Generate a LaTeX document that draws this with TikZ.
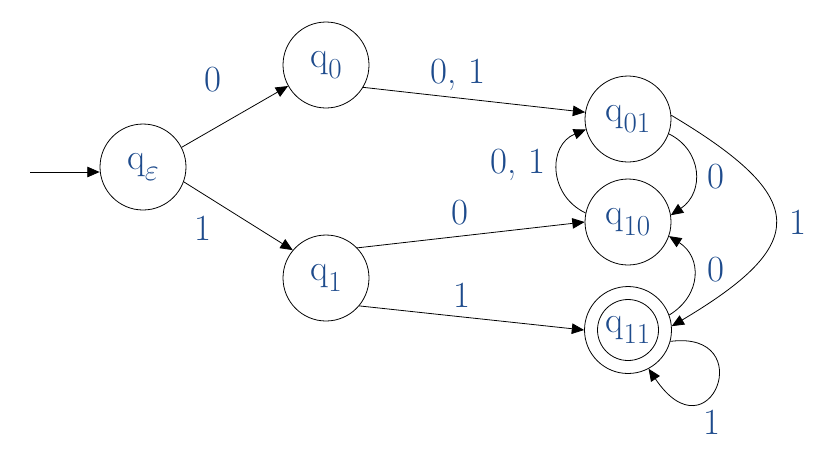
\documentclass[tikz,border=0pt]{standalone}
\usetikzlibrary{arrows.meta}
\definecolor{labelblue}{RGB}{30,75,140}
% state name: a q with a lowered, smaller subscript
\newcommand\qsub[1]{q\raisebox{-0.3em}{\fontsize{16.5}{16.5}\selectfont #1}}
\begin{document}
\begin{tikzpicture}[x=0.02cm,y=-0.02cm,
  state/.style={circle,draw,line width=0.45pt,minimum size=1.72cm,inner sep=0pt,
    text=labelblue,font=\fontsize{21}{24}\selectfont},
  edge/.style={line width=0.45pt,-{Triangle[length=7pt,width=6pt]}},
  lbl/.style={text=labelblue,font=\fontsize{21}{24}\selectfont,inner sep=1pt}]
  \useasboundingbox (0,0) rectangle (817,454);

  % states
  \node[state]  (qe)  at (143,167) {\qsub{$\varepsilon$}};
  \node[state]  (q0)  at (326,65)  {\qsub{0}};
  \node[state]  (q1)  at (326,278) {\qsub{1}};
  \node[state]  (q01) at (628,119) {\qsub{01}};
  \node[state]  (q10) at (628,222) {\qsub{10}};
  \node[state,minimum size=1.74cm] (q11) at (628,330) {};
  \node[state,minimum size=1.22cm] (q11in) at (628,330) {\qsub{11}};

  % start arrow
  \coordinate (start) at (30,172);
  \draw[edge] (start) -- (qe.west |- start);

  % transitions
  \draw[edge] (qe.27)  -- (q0.209);
  \draw[edge] (qe.-20) -- (q1.140);
  \draw[edge] (q0.-31) -- (q01.171);
  \draw[edge] (q1.44)  -- (q10.180);
  \draw[edge] (q1.-40) -- (q11.180);
  \draw[edge] (q10.168) .. controls (548,195) and (548,145) .. (q01.194);
  \draw[edge] (q01.-20) .. controls (702,150) and (705,192) .. (q10.9);
  \draw[edge] (q11.20) .. controls (702,295) and (702,257) .. (q10.-19);
  \draw[edge] (q01.5) .. controls (810,198) and (810,244) .. (q11.5);
  \draw[edge] (q11.-15) .. controls (760,330) and (710,460) .. (q11.-62);

  % transition labels
  \node[lbl] (l1) at (213,80)  {0};
  \node[lbl] (l2) at (203,228) {1};
  \node[lbl] (l3) at (458,75)  {0, 1};
  \node[lbl] (l4) at (460,213) {0};
  \node[lbl] (l5) at (462,295) {1};
  \node[lbl] (l6) at (518,165) {0, 1};
  \node[lbl] (l7) at (716,177) {0};
  \node[lbl] (l8) at (798,222) {1};
  \node[lbl] (l9) at (716,270) {0};
  \node[lbl] (l10) at (712,422) {1};
\end{tikzpicture}
\end{document}
